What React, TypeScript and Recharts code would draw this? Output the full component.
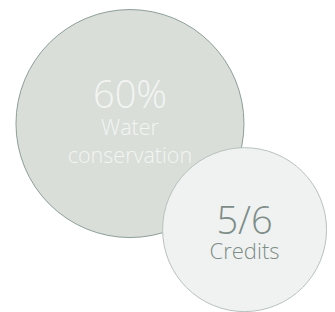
import {Scatter, ScatterChart, XAxis, YAxis, ZAxis} from 'recharts'

const headlines = ['60%', '5/6']
const captions = [['Water', 'conservation'], ['Credits']]
const xPos = [38.8, 73]
const yPos = [39.6, 73.6]
const bubbleSize = [100, 51.7]

const fills = ['#d9ded9', '#f0f2f1']
const strokes = ['#8e9e99', '#b7c2bd']
const textColors = ['#f3f5f3', '#7d8d88']

const data = headlines.map((h, i) => ({
  x: xPos[i],
  y: yPos[i],
  z: bubbleSize[i],
  headline: h,
  caption: captions[i],
  idx: i
}))

const Bubble = (props: any) => {
  const {cx, cy, width, payload} = props
  const r = width / 2
  const i = payload.idx
  const big = i === 0
  const headSize = big ? 38 : 38
  const capSize = big ? 21.5 : 22
  const headY = big ? cy - 16 : cy + 4
  const gap = big ? 27.5 : 25
  return (
    <g>
      <circle cx={cx} cy={cy} r={r} fill={fills[i]} stroke={strokes[i]} strokeWidth={1} />
      <text
        x={cx}
        y={headY}
        textAnchor='middle'
        fill={textColors[i]}
        fontSize={headSize}
        fontWeight={300}
        fontFamily='Open Sans, sans-serif'
      >
        {payload.headline}
      </text>
      {payload.caption.map((c: string, k: number) => (
        <text
          key={c}
          x={cx}
          y={headY + gap * (k + 1)}
          textAnchor='middle'
          fill={textColors[i]}
          fontSize={capSize}
          fontWeight={300}
          fontFamily='Open Sans, sans-serif'
        >
          {c}
        </text>
      ))}
    </g>
  )
}

export default function App() {
  return (
    <div style={{position: 'absolute', left: 0, top: 0}}>
      <ScatterChart width={335} height={312} margin={{top: 0, right: 0, bottom: 0, left: 0}}>
        <XAxis type='number' dataKey='x' domain={[0, 100]} hide />
        <YAxis type='number' dataKey='y' domain={[0, 100]} reversed hide />
        <ZAxis type='number' dataKey='z' domain={[0, 100]} range={[0, 40828]} />
        <Scatter data={data} shape={<Bubble />} isAnimationActive={false} />
      </ScatterChart>
    </div>
  )
}
